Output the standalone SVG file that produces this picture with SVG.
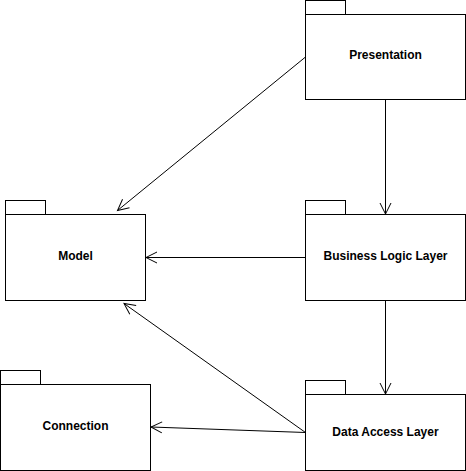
<svg xmlns="http://www.w3.org/2000/svg" width="466" height="471" viewBox="0 0 466 471">
<defs>
<style>
.pk{fill:#fff;stroke:#000;stroke-width:1}
.lb{font-family:"Liberation Sans",Arial,sans-serif;font-size:12px;font-weight:bold;text-anchor:middle;fill:#000}
.cn{fill:none;stroke:#000;stroke-width:1}
</style>
<marker id="open" markerUnits="userSpaceOnUse" markerWidth="14" markerHeight="14" viewBox="-12 -7 14 14" refX="0" refY="0" orient="auto">
<path d="M-11,-5.5 L0,0 L-11,5.5" fill="none" stroke="#000" stroke-width="1"/>
</marker>
</defs>
<rect width="466" height="471" fill="#fff"/>
<g id="connectors">
<line class="cn" x1="305.5" y1="57" x2="117.5" y2="210.5" marker-end="url(#open)"/>
<line class="cn" x1="385.5" y1="100" x2="385.5" y2="214" marker-end="url(#open)"/>
<line class="cn" x1="305.5" y1="257.5" x2="146" y2="257.5" marker-end="url(#open)"/>
<line class="cn" x1="385.5" y1="300" x2="385.5" y2="394" marker-end="url(#open)"/>
<line class="cn" x1="305.5" y1="432.5" x2="124" y2="303.5" marker-end="url(#open)"/>
<line class="cn" x1="305.5" y1="432.5" x2="151" y2="427" marker-end="url(#open)"/>
</g>
<g id="presentation">
<rect class="pk" x="305.5" y="0.5" width="40" height="14"/>
<rect class="pk" x="305.5" y="14.5" width="160" height="85"/>
<text class="lb" x="385.5" y="59">Presentation</text>
</g>
<g id="model">
<rect class="pk" x="5.5" y="200.5" width="40" height="14"/>
<rect class="pk" x="5.5" y="214.5" width="140" height="86"/>
<text class="lb" x="75.5" y="259.5">Model</text>
</g>
<g id="business-logic-layer">
<rect class="pk" x="305.5" y="200.5" width="40" height="14"/>
<rect class="pk" x="305.5" y="214.5" width="160" height="86"/>
<text class="lb" x="385.5" y="259.5">Business Logic Layer</text>
</g>
<g id="connection">
<rect class="pk" x="0.5" y="370.5" width="40" height="14"/>
<rect class="pk" x="0.5" y="384.5" width="150" height="86"/>
<text class="lb" x="75.5" y="429.5">Connection</text>
</g>
<g id="data-access-layer">
<rect class="pk" x="305.5" y="380.5" width="40" height="14"/>
<rect class="pk" x="305.5" y="394.5" width="160" height="76"/>
<text class="lb" x="385.5" y="436">Data Access Layer</text>
</g>
</svg>
